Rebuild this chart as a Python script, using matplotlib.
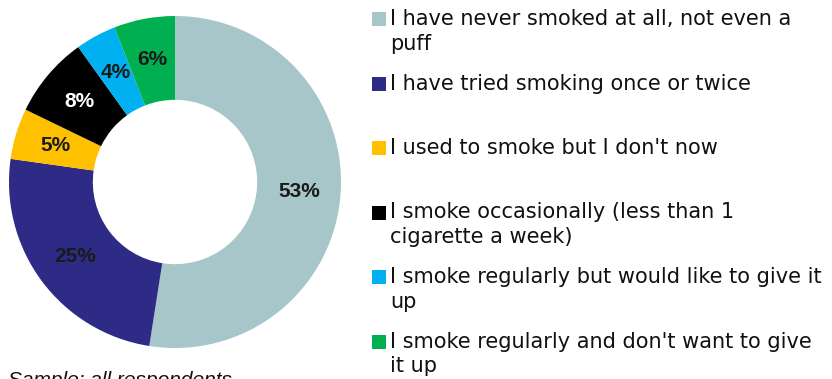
import matplotlib.pyplot as plt
from matplotlib.patches import Rectangle
import numpy as np

plt.rcParams['font.family'] = ['Liberation Sans', 'DejaVu Sans']

# smoking status shares (%)
categories = [
    "I have never smoked at all, not even a\npuff",
    "I have tried smoking once or twice",
    "I used to smoke but I don't now",
    "I smoke occasionally (less than 1\ncigarette a week)",
    "I smoke regularly but would like to give it\nup",
    "I smoke regularly and don't want to give\nit up",
]
values = [53, 25, 5, 8, 4, 6]
colors = ["#A6C6CA", "#2E2B87", "#FFC000", "#000000", "#00B0F0", "#00B050"]
label_colors = ["#1a1a1a", "#1a1a1a", "#1a1a1a", "white", "#1a1a1a", "#1a1a1a"]

W, H = 832, 379
fig = plt.figure(figsize=(W / 100, H / 100), dpi=100)

# donut: centre (175, 182) px, outer radius 166 px
cx, cy, r = 175, 182, 166
ax = fig.add_axes([(cx - r) / W, (H - cy - r) / H, 2 * r / W, 2 * r / H])
wedges, _ = ax.pie(values, colors=colors, startangle=90, counterclock=False,
                   wedgeprops=dict(width=0.505, linewidth=0))
ax.set_xlim(-1, 1)
ax.set_ylim(-1, 1)
ax.set_aspect('equal')
ax.axis('off')

for w, v, tc in zip(wedges, values, label_colors):
    ang = np.deg2rad((w.theta1 + w.theta2) / 2)
    ax.text(0.75 * np.cos(ang), 0.75 * np.sin(ang), f"{v}%", ha='center', va='center',
            fontsize=15, fontweight='bold', color=tc)

# legend drawn by hand, one entry every 64.5 px
for i, (lab, col) in enumerate(zip(categories, colors)):
    y = 19 + 64.5 * i
    fig.patches.append(Rectangle((372 / W, (H - y - 7) / H), 14 / W, 14 / H,
                                 transform=fig.transFigure, facecolor=col,
                                 edgecolor='none'))
    fig.text(390 / W, (H - y + 10) / H, lab, ha='left', va='top', fontsize=15,
             family='DejaVu Sans', color='#111111', linespacing=1.3)

# source note along the bottom edge
fig.text(8 / W, (H - 371) / H, "Sample: all respondents", ha='left', va='top',
         fontsize=15, style='italic', color='#111111')

fig.savefig("out.png", dpi=100, facecolor='white')
